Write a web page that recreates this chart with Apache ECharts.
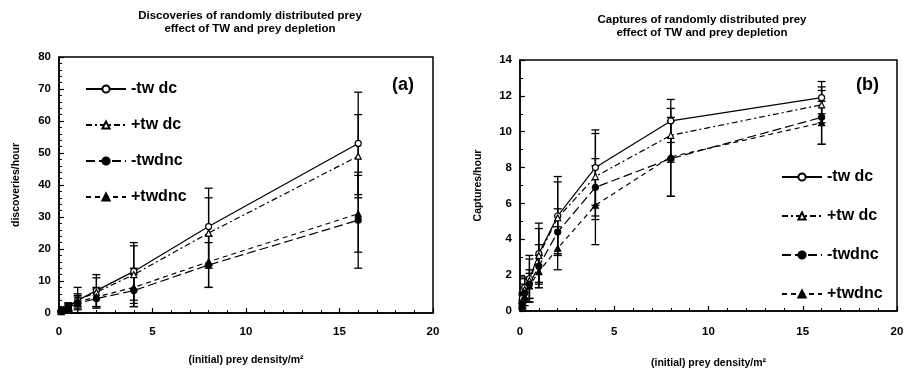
<!DOCTYPE html>
<html>
<head>
<meta charset="utf-8">
<script src="https://cdn.jsdelivr.net/npm/echarts@6/dist/echarts.min.js"></script>
<style>
html,body{margin:0;padding:0;background:#fff;}
#chart{width:912px;height:374px;}
</style>
</head>
<body>
<div id="chart"></div>
<script>
// ---- data ----
const xDensity = [0.125, 0.25, 0.5, 1, 2, 4, 8, 16];
const seriesNames = ['-tw dc', '+tw dc', '-twdnc', '+twdnc'];

// panel (a): discoveries/hour
const discMinusTwDc  = [0.5, 1.0, 2.0, 4.0, 7.0, 13.0, 27.0, 53.0];
const discPlusTwDc   = [0.5, 1.0, 2.0, 4.0, 6.5, 12.0, 25.0, 49.0];
const discMinusTwdnc = [0.4, 0.8, 1.5, 3.0, 4.5, 7.0, 15.0, 29.0];
const discPlusTwdnc  = [0.4, 0.8, 1.5, 3.5, 5.0, 8.0, 16.0, 31.0];
const discErrMinusTwDc  = [0.3, 0.6, 1.2, 4.0, 5.0, 9.0, 12.0, 16.0];
const discErrPlusTwDc   = [0.3, 0.6, 1.0, 2.0, 4.5, 9.0, 11.0, 13.0];
const discErrMinusTwdnc = [0.3, 0.5, 1.0, 2.0, 3.0, 5.0, 7.0, 15.0];
const discErrPlusTwdnc  = [0.3, 0.5, 1.0, 2.0, 3.0, 6.0, 8.0, 12.0];

// panel (b): captures/hour
const captMinusTwDc  = [0.7, 1.3, 1.8, 3.2, 5.3, 8.0, 10.6, 11.9];
const captPlusTwDc   = [0.6, 1.2, 1.7, 3.1, 5.2, 7.5, 9.8, 11.5];
const captMinusTwdnc = [0.4, 1.0, 1.5, 2.5, 4.4, 6.9, 8.5, 10.8];
const captPlusTwdnc  = [0.3, 0.8, 1.4, 2.2, 3.5, 5.9, 8.6, 10.5];
const captErrMinusTwDc  = [0.3, 0.6, 1.3, 1.7, 2.2, 2.1, 1.2, 0.9];
const captErrPlusTwDc   = [0.3, 0.6, 1.2, 1.5, 2.0, 2.4, 1.5, 1.0];
const captErrMinusTwdnc = [0.2, 0.5, 0.8, 1.2, 1.3, 1.6, 2.1, 1.5];
const captErrPlusTwdnc  = [0.2, 0.5, 0.7, 0.9, 1.2, 2.2, 2.2, 1.2];

// ---- styles ----
const FONT = 'Liberation Sans, Arial, sans-serif';
const styles = [
  {symbol: 'circle',   fill: '#fff', dash: 'solid'},
  {symbol: 'triangle', fill: '#fff', dash: [6, 3, 2, 3]},
  {symbol: 'circle',   fill: '#000', dash: [9, 4]},
  {symbol: 'triangle', fill: '#000', dash: [5, 4]}
];

function lineSeries(name, values, axisIdx) {
  const st = styles[seriesNames.indexOf(name)];
  return {
    name: name, type: 'line',
    xAxisIndex: axisIdx, yAxisIndex: axisIdx,
    data: xDensity.map((x, i) => [x, values[i]]),
    symbol: st.symbol, symbolSize: 6, showSymbol: true,
    lineStyle: {color: '#000', width: 1.2, type: st.dash},
    itemStyle: {color: st.fill, borderColor: '#000', borderWidth: 1.2},
    z: 3, animation: false
  };
}

function errSeries(id, values, errs, axisIdx) {
  return {
    name: id, type: 'custom',
    xAxisIndex: axisIdx, yAxisIndex: axisIdx,
    data: xDensity.map((x, i) => [x, values[i] - errs[i], values[i] + errs[i]]),
    renderItem: function (params, api) {
      const lo = api.coord([api.value(0), api.value(1)]);
      const hi = api.coord([api.value(0), api.value(2)]);
      const w = 4;
      const s = {stroke: '#000', lineWidth: 1.3};
      return {type: 'group', children: [
        {type: 'line', shape: {x1: lo[0], y1: lo[1], x2: hi[0], y2: hi[1]}, style: s},
        {type: 'line', shape: {x1: lo[0]-w, y1: lo[1], x2: lo[0]+w, y2: lo[1]}, style: s},
        {type: 'line', shape: {x1: hi[0]-w, y1: hi[1], x2: hi[0]+w, y2: hi[1]}, style: s}
      ]};
    },
    z: 2, animation: false, silent: true
  };
}

const axisLabelStyle = {color: '#000', fontFamily: FONT, fontWeight: 'bold', fontSize: 11.5};
const axisLineStyle = {show: true, onZero: false, lineStyle: {color: '#000', width: 1.5}};
const nameStyle = {color: '#000', fontFamily: FONT, fontWeight: 'bold', fontSize: 10.5};

function xAxis(gridIndex, labelMargin, nameGap) {
  return {
    type: 'value', gridIndex: gridIndex, min: 0, max: 20, interval: 5,
    axisLine: axisLineStyle,
    axisTick: {show: true, inside: true, length: 5, lineStyle: {color: '#000', width: 1.2}},
    minorTick: {show: true, splitNumber: 5, length: 3, lineStyle: {color: '#000', width: 1}},
    axisLabel: Object.assign({margin: labelMargin}, axisLabelStyle),
    splitLine: {show: false},
    name: '(initial) prey density/m²', nameLocation: 'middle', nameGap: nameGap,
    nameTextStyle: nameStyle
  };
}
function yAxis(gridIndex, max, interval, minorSplit, name, nameGap) {
  return {
    type: 'value', gridIndex: gridIndex, min: 0, max: max, interval: interval,
    axisLine: axisLineStyle,
    axisTick: {show: true, inside: true, length: 5, lineStyle: {color: '#000', width: 1.2}},
    minorTick: {show: true, splitNumber: minorSplit, length: 3, lineStyle: {color: '#000', width: 1}},
    axisLabel: Object.assign({margin: 8}, axisLabelStyle),
    splitLine: {show: false},
    name: name, nameLocation: 'middle', nameGap: nameGap, nameRotate: 90,
    nameTextStyle: nameStyle
  };
}

const legendText = {color: '#000', fontFamily: FONT, fontWeight: 'bold', fontSize: 16};
const titleStyle = {color: '#000', fontFamily: FONT, fontWeight: 'bold', fontSize: 11.5, lineHeight: 13};

const option = {
  backgroundColor: '#fff',
  animation: false,
  title: [
    {text: 'Discoveries of randomly distributed prey\neffect of TW and prey depletion',
     left: 245, top: 4, textAlign: 'center', textStyle: titleStyle},
    {text: 'Captures of randomly distributed prey\neffect of TW and prey depletion',
     left: 697, top: 8, textAlign: 'center', textStyle: titleStyle}
  ],
  grid: [
    {left: 59, top: 57, width: 374, height: 256, show: true, borderColor: '#000', borderWidth: 1.5, backgroundColor: 'transparent'},
    {left: 520, top: 60, width: 377, height: 260, show: true, borderColor: '#000', borderWidth: 1.5, backgroundColor: 'transparent'}
  ],
  xAxis: [xAxis(0, 13, 42), xAxis(1, 15, 47)],
  yAxis: [
    yAxis(0, 80, 10, 5, 'discoveries/hour', 37),
    yAxis(1, 14, 2, 2, 'Captures/hour', 36)
  ],
  legend: [
    {data: seriesNames, orient: 'vertical', left: 80, top: 76, itemWidth: 40, itemHeight: 9,
     itemGap: 20, textStyle: legendText, selectedMode: false},
    {data: seriesNames, orient: 'vertical', left: 776, top: 164, itemWidth: 40, itemHeight: 9,
     itemGap: 23, textStyle: legendText, selectedMode: false}
  ],
  graphic: [
    {type: 'text', left: 392, top: 76, style: {text: '(a)', fill: '#000', font: 'bold 18px ' + FONT}},
    {type: 'text', left: 856, top: 76, style: {text: '(b)', fill: '#000', font: 'bold 18px ' + FONT}}
  ],
  series: [
    lineSeries('-tw dc', discMinusTwDc, 0),
    lineSeries('+tw dc', discPlusTwDc, 0),
    lineSeries('-twdnc', discMinusTwdnc, 0),
    lineSeries('+twdnc', discPlusTwdnc, 0),
    errSeries('errA0', discMinusTwDc, discErrMinusTwDc, 0),
    errSeries('errA1', discPlusTwDc, discErrPlusTwDc, 0),
    errSeries('errA2', discMinusTwdnc, discErrMinusTwdnc, 0),
    errSeries('errA3', discPlusTwdnc, discErrPlusTwdnc, 0),
    lineSeries('-tw dc', captMinusTwDc, 1),
    lineSeries('+tw dc', captPlusTwDc, 1),
    lineSeries('-twdnc', captMinusTwdnc, 1),
    lineSeries('+twdnc', captPlusTwdnc, 1),
    errSeries('errB0', captMinusTwDc, captErrMinusTwDc, 1),
    errSeries('errB1', captPlusTwDc, captErrPlusTwDc, 1),
    errSeries('errB2', captMinusTwdnc, captErrMinusTwdnc, 1),
    errSeries('errB3', captPlusTwdnc, captErrPlusTwdnc, 1)
  ]
};

const chart = echarts.init(document.getElementById('chart'), null, {renderer: 'canvas'});
chart.setOption(option);
</script>
</body>
</html>
